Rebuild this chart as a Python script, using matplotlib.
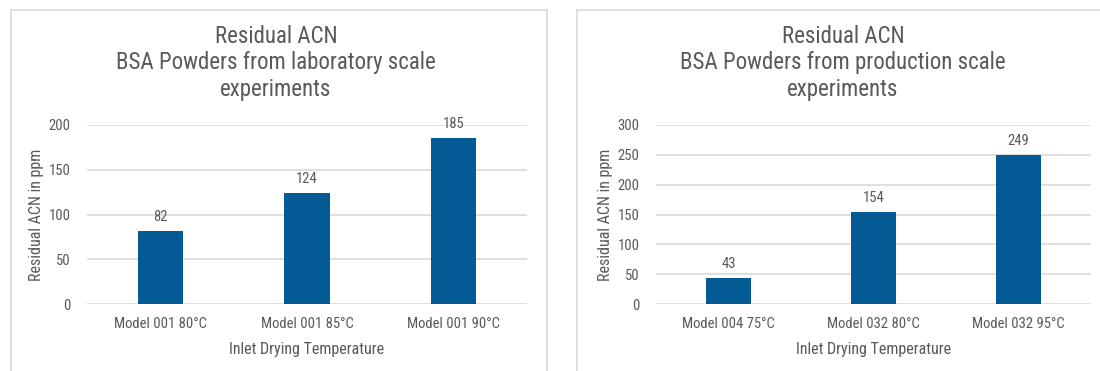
import matplotlib
matplotlib.use("Agg")
import matplotlib.pyplot as plt
from matplotlib.patches import Rectangle

plt.rcParams['font.family'] = ['Roboto Condensed', 'IBM Plex Sans Condensed',
                               'Archivo Narrow', 'DejaVu Sans']

# data
lab_models = ["Model 001 80°C", "Model 001 85°C", "Model 001 90°C"]
lab_acn = [82, 124, 185]
prod_models = ["Model 004 75°C", "Model 032 80°C", "Model 032 95°C"]
prod_acn = [43, 154, 249]

titles = ["Residual ACN\nBSA Powders from laboratory scale\nexperiments",
          "Residual ACN\nBSA Powders from production scale\nexperiments"]
y_max = [200, 300]

BAR = "#035a95"
TXT = "#595959"
GRID = "#d9d9d9"

W, H = 1100, 371
fig = plt.figure(figsize=(W / 100, H / 100), dpi=100)


def px(x0, x1, y0, y1):
    # pixel box -> figure fraction [left, bottom, width, height]
    return [x0 / W, 1 - y1 / H, (x1 - x0) / W, (y1 - y0) / H]


# panel frames
for x0, x1 in [(11, 547), (577, 1110)]:
    fig.patches.append(Rectangle((x0 / W, -0.05), (x1 - x0) / W, 1 - 10 / H + 0.05,
                                 transform=fig.transFigure, fill=False,
                                 edgecolor=GRID, linewidth=1.2))

panels = [
    (lab_models, lab_acn, px(87, 527, 125, 304), 276),
    (prod_models, prod_acn, px(656, 1091, 125, 304), 843),
]

for i, (cats, vals, box, cx) in enumerate(panels):
    ax = fig.add_axes(box)
    x = range(len(cats))
    bars = ax.bar(x, vals, width=0.31, color=BAR, zorder=3)
    ax.bar_label(bars, labels=[str(v) for v in vals], padding=5,
                 fontsize=10.5, color=TXT)
    ax.set_xlim(-0.5, len(cats) - 0.5)
    ax.set_ylim(0, y_max[i])
    ax.set_yticks(range(0, y_max[i] + 1, 50))
    ax.set_xticks(list(x))
    ax.set_xticklabels(cats)
    ax.tick_params(length=0, labelsize=10.5, labelcolor=TXT)
    ax.tick_params(axis='y', pad=12)
    ax.tick_params(axis='x', pad=9)
    ax.grid(axis='y', color=GRID, linewidth=1.2, zorder=0)
    for s in ax.spines.values():
        s.set_visible(False)
    ax.set_ylabel("Residual ACN in ppm", fontsize=11.5, color=TXT, labelpad=3)
    ax.set_xlabel("Inlet Drying Temperature", fontsize=11.5, color=TXT, labelpad=8)
    fig.text(cx / W, 1 - 63 / H, titles[i], ha='center', va='center',
             fontsize=16.5, color=TXT, linespacing=1.17)

fig.savefig("out.png", dpi=100, facecolor="white")
